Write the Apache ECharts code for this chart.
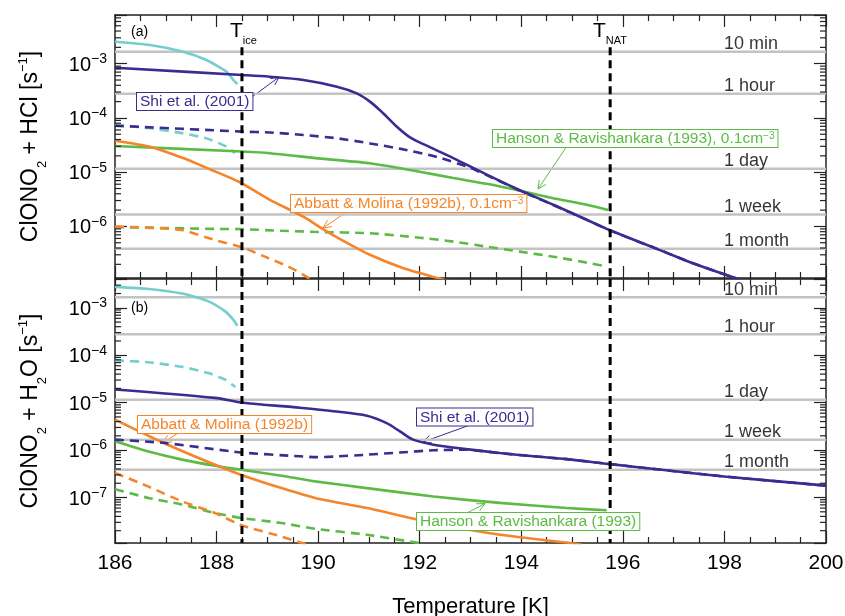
<!DOCTYPE html>
<html><head><meta charset="utf-8">
<script src="https://cdn.jsdelivr.net/npm/echarts@6/dist/echarts.min.js"></script>
<style>html,body{margin:0;padding:0;background:#fff}#c{width:845px;height:616px}</style>
</head><body><div id="c"></div>
<script>
// ---------- data ----------
const T_ICE = 188.5, T_NAT = 195.75;
const lifetimeSeconds = [600, 3600, 86400, 604800, 2592000];
const lifetimeLabels = ['10 min', '1 hour', '1 day', '1 week', '1 month'];
const lifetimeLabelT = 198;
const xRange = [186, 200];
const yRangeA = [1.12e-7, 7.9e-3];
const yRangeB = [1.1e-8, 4.05e-3];
const tLineTopA = 2.0e-3;

// panel (a): ClONO2 + HCl
const aIceSolid = [[186.0,2.54e-3],[186.69,2.21e-3],[187.34,1.66e-3],[187.80,1.17e-3],[188.20,7.1e-4],[188.33,5.0e-4],[188.41,4.2e-4]];
const aIceDash  = [[186.0,7.4e-5],[186.66,6.5e-5],[187.32,5.25e-5],[187.80,4.2e-5],[188.20,2.95e-5],[188.36,2.24e-5]];
const aShiSolid = [[186.0,8.4e-4],[188.5,6.2e-4],[189.05,5.75e-4],[189.71,5.0e-4],[190.37,3.77e-4],[190.76,2.84e-4],[191.02,2.0e-4],[191.28,1.22e-4],[191.55,6.9e-5],[191.81,4.4e-5],[192.2,2.9e-5],[192.66,1.82e-5],[193.32,9.0e-6],[193.97,4.65e-6],[194.63,2.51e-6],[195.29,1.33e-6],[195.75,8.5e-7],[196.72,3.7e-7],[197.38,2.09e-7],[198.3,1.05e-7]];
const aShiDash  = [[186.0,7.2e-5],[188.5,5.6e-5],[189.05,5.4e-5],[189.71,4.85e-5],[190.37,4.22e-5],[191.02,3.39e-5],[191.68,2.63e-5],[192.34,1.91e-5],[193.0,1.2e-5],[193.32,8.8e-6],[193.97,4.6e-6],[194.63,2.48e-6],[195.29,1.32e-6],[195.75,8.4e-7],[196.72,3.7e-7],[197.38,2.09e-7],[198.3,1.05e-7]];
const aHRSolid  = [[186.0,3.04e-5],[188.5,2.4e-5],[189.05,2.24e-5],[190.0,1.8e-5],[191.02,1.46e-5],[192.0,1.02e-5],[192.66,7.8e-6],[193.32,6.1e-6],[193.97,4.57e-6],[194.63,3.31e-6],[195.29,2.51e-6],[195.71,2.01e-6]];
const aHRDash   = [[186.0,9.7e-7],[188.0,9.0e-7],[188.5,8.9e-7],[189.3,8.3e-7],[190.0,7.9e-7],[191.02,7.5e-7],[192.0,6.2e-7],[192.66,5.25e-7],[193.32,4.24e-7],[193.97,3.43e-7],[194.63,2.77e-7],[195.29,2.15e-7],[195.68,1.82e-7]];
const aAMSolid  = [[186.0,3.81e-5],[186.69,2.95e-5],[187.34,1.82e-5],[187.9,1.1e-5],[188.45,6.6e-6],[189.05,3.1e-6],[189.71,1.51e-6],[190.07,9.2e-7],[190.37,6.3e-7],[191.02,3.0e-7],[191.68,1.7e-7],[192.37,1.11e-7],[192.6,9.6e-8]];
const aAMDash   = [[186.0,9.9e-7],[186.66,9.5e-7],[187.31,8.6e-7],[187.97,5.6e-7],[188.49,4.17e-7],[188.95,2.77e-7],[189.41,1.82e-7],[189.77,1.19e-7],[189.9,1.0e-7]];

// panel (b): ClONO2 + H2O
const bIceSolid = [[186.0,2.76e-3],[186.66,2.5e-3],[187.32,2.0e-3],[187.84,1.37e-3],[188.17,8.4e-4],[188.33,5.6e-4],[188.41,4.2e-4]];
const bIceDash  = [[186.0,7.8e-5],[186.66,7.1e-5],[187.32,5.7e-5],[187.84,4.2e-5],[188.17,3.05e-5],[188.37,2.14e-5]];
const bShiSolid = [[186.0,1.9e-5],[187.97,1.26e-5],[188.49,1.01e-5],[189.64,7.8e-6],[190.30,6.6e-6],[190.96,5.3e-6],[191.35,3.7e-6],[191.61,2.48e-6],[191.87,1.66e-6],[192.27,1.3e-6],[192.92,1.05e-6],[193.58,8.7e-7],[194.24,7.4e-7],[194.89,6.45e-7],[195.71,5.13e-7],[196.72,3.89e-7],[198.04,2.75e-7],[200.0,1.78e-7]];
const bShiDash  = [[186.0,1.66e-6],[186.99,1.41e-6],[188.49,8.9e-7],[189.64,7.4e-7],[189.94,7.1e-7],[190.30,7.3e-7],[190.96,8.0e-7],[191.61,8.9e-7],[192.27,9.9e-7],[192.92,1.02e-6],[193.58,8.6e-7],[194.24,7.4e-7],[194.89,6.45e-7],[195.71,5.13e-7],[196.72,3.89e-7],[198.04,2.75e-7],[200.0,1.78e-7]];
const bHRSolid  = [[186.0,1.53e-6],[186.66,9.3e-7],[187.32,6.3e-7],[187.97,4.68e-7],[188.49,3.85e-7],[189.28,2.88e-7],[189.94,2.19e-7],[190.96,1.58e-7],[192.27,1.05e-7],[193.58,7.7e-8],[194.89,6.0e-8],[195.68,5.4e-8]];
const bHRDash   = [[186.0,1.5e-7],[186.66,9.8e-8],[187.32,7.1e-8],[187.97,4.7e-8],[188.49,3.7e-8],[189.28,2.9e-8],[189.94,2.19e-8],[190.96,1.64e-8],[191.94,1.12e-8],[192.05,1.07e-8]];
const bAMSolid  = [[186.0,4.4e-6],[186.95,1.43e-6],[187.97,4.9e-7],[188.49,3.0e-7],[189.28,1.58e-7],[189.94,9.8e-8],[190.96,6.0e-8],[192.27,2.9e-8],[193.58,1.64e-8],[194.96,1.1e-8],[195.2,1.0e-8]];
const bAMDash   = [[186.0,3.3e-7],[186.66,1.7e-7],[187.32,8.3e-8],[187.97,4.7e-8],[188.49,2.6e-8],[189.28,1.5e-8],[189.8,1.0e-8]];

// ---------- style ----------
const FONT = "'Liberation Sans', Arial, Helvetica, sans-serif";
const C_ICE = '#74cfcc', C_SHI = '#3a2c91', C_HR = '#5cbb45', C_AM = '#f5852a';
const FRAME = '#222';

const chart = echarts.init(document.getElementById('c'), null, {renderer: 'canvas'});

function fmtPow(v) {
  const e = Math.log10(v), r = Math.round(e);
  if (Math.abs(e - r) > 1e-6) return '';
  return '{b|10}{s|' + (r < 0 ? '\u2212' : '') + Math.abs(r) + '}';
}

const titleRich = {
  b: {fontSize: 23, fontFamily: FONT, color: '#000', verticalAlign: 'bottom', padding: [0, 0, 7, 0]},
  s: {fontSize: 13, fontFamily: FONT, color: '#000', verticalAlign: 'bottom'},
  p: {fontSize: 13, fontFamily: FONT, color: '#000', verticalAlign: 'bottom', padding: [0, 0, 19, 0]}
};
const yTitles = [
  '{b|ClONO}{s|2}{b| + HCl [s}{p|\u22121}{b|]}',
  '{b|ClONO}{s|2}{b| + H}{s|2}{b|O [s}{p|\u22121}{b|]}'
];

function xAx(g, top) {
  const showLab = (g === 1 && !top);
  return {
    type: 'value', gridIndex: g, position: top ? 'top' : 'bottom',
    min: xRange[0], max: xRange[1], interval: 2,
    axisLine: {show: true, onZero: false, lineStyle: {color: FRAME, width: 1.5}},
    axisTick: {show: true, inside: true, length: 12, lineStyle: {color: FRAME, width: 1.2}},
    minorTick: {show: true, splitNumber: 4, length: 6, lineStyle: {color: FRAME, width: 1.2}},
    splitLine: {show: false}, minorSplitLine: {show: false},
    axisLabel: showLab ? {show: true, fontSize: 21, color: '#000', margin: 10, fontFamily: FONT} : {show: false},
    name: showLab ? 'Temperature [K]' : '', nameLocation: 'middle', nameGap: 53,
    nameTextStyle: {fontSize: 22, color: '#000', fontFamily: FONT}
  };
}
function yAx(g, right) {
  const r = g === 0 ? yRangeA : yRangeB;
  return {
    type: 'log', logBase: 10, gridIndex: g, position: right ? 'right' : 'left',
    min: r[0], max: r[1],
    axisLine: {show: true, onZero: false, lineStyle: {color: FRAME, width: 1.5}},
    axisTick: {show: true, inside: true, length: 12, lineStyle: {color: FRAME, width: 1.2}},
    minorTick: {show: false}, splitLine: {show: false}, minorSplitLine: {show: false},
    axisLabel: right ? {show: false} : {
      show: true, margin: 8, color: '#000', fontFamily: FONT, formatter: fmtPow,
      rich: {
        b: {fontSize: 20, fontFamily: FONT, color: '#000', verticalAlign: 'bottom'},
        s: {fontSize: 14, fontFamily: FONT, color: '#000', verticalAlign: 'bottom', padding: [0, 0, 9, 0]}
      }
    },
    name: right ? '' : yTitles[g], nameLocation: 'middle', nameGap: 66,
    nameTextStyle: {fontFamily: FONT, color: '#000', rich: titleRich}
  };
}

function curve(data, color, dashed, g, sm) {
  return {
    type: 'line', xAxisIndex: g * 2, yAxisIndex: g * 2, data: data,
    showSymbol: false, symbol: 'none', smooth: sm || 0.2,
    lineStyle: {color: color, width: 2.6, type: dashed ? [9, 6] : 'solid', cap: 'butt'},
    z: 3, silent: true, animation: false, clip: true
  };
}

const series = [];
[0, 1].forEach(g => {
  const yr = g === 0 ? yRangeA : yRangeB;
  lifetimeSeconds.forEach(s => {
    series.push({
      type: 'line', xAxisIndex: g * 2, yAxisIndex: g * 2,
      data: [[xRange[0], 1 / s], [xRange[1], 1 / s]],
      showSymbol: false, symbol: 'none', silent: true, animation: false,
      lineStyle: {color: '#c3c3c3', width: 2.5}, z: 1
    });
  });
  series.push({
    type: 'scatter', xAxisIndex: g * 2, yAxisIndex: g * 2,
    data: lifetimeSeconds.map((s, i) => ({value: [lifetimeLabelT, 1 / s], name: lifetimeLabels[i]})),
    symbolSize: 1, itemStyle: {color: 'rgba(0,0,0,0)'}, silent: true, animation: false, z: 2,
    label: {show: true, formatter: '{b}', position: [0, 2], align: 'left', verticalAlign: 'bottom',
            fontSize: 18, color: '#000', fontFamily: FONT}
  });
  const minorVals = [];
  for (let e = -10; e <= -1; e++) for (let k = 2; k <= 9; k++) {
    const v = k * Math.pow(10, e);
    if (v > yr[0] && v < yr[1]) minorVals.push([xRange[0], v]);
  }
  series.push({
    type: 'custom', xAxisIndex: g * 2, yAxisIndex: g * 2, data: minorVals, silent: true,
    animation: false, clip: false, z: 6,
    renderItem: function (params, api) {
      const p = api.coord([xRange[0], api.value(1)]);
      const q = api.coord([xRange[1], api.value(1)]);
      return {type: 'group', children: [
        {type: 'line', shape: {x1: p[0], y1: p[1], x2: p[0] + 6, y2: p[1]}, style: {stroke: FRAME, lineWidth: 1.2}},
        {type: 'line', shape: {x1: q[0] - 6, y1: q[1], x2: q[0], y2: q[1]}, style: {stroke: FRAME, lineWidth: 1.2}}
      ]};
    }
  });
  const top = g === 0 ? tLineTopA : yr[1];
  [T_ICE, T_NAT].forEach(t => {
    series.push({
      type: 'line', xAxisIndex: g * 2, yAxisIndex: g * 2,
      data: [[t, top], [t, yr[0]]], showSymbol: false, symbol: 'none', silent: true, animation: false,
      lineStyle: {color: '#000', width: 3, type: [8, 5]}, z: 5
    });
  });
});

series.push(
  curve(aIceSolid, C_ICE, false, 0), curve(aIceDash, C_ICE, true, 0),
  curve(aHRSolid, C_HR, false, 0), curve(aHRDash, C_HR, true, 0),
  curve(aAMSolid, C_AM, false, 0), curve(aAMDash, C_AM, true, 0),
  curve(aShiDash, C_SHI, true, 0), curve(aShiSolid, C_SHI, false, 0, 0.35),
  curve(bIceSolid, C_ICE, false, 1), curve(bIceDash, C_ICE, true, 1),
  curve(bHRSolid, C_HR, false, 1), curve(bHRDash, C_HR, true, 1),
  curve(bAMSolid, C_AM, false, 1), curve(bAMDash, C_AM, true, 1),
  curve(bShiDash, C_SHI, true, 1), curve(bShiSolid, C_SHI, false, 1, 0.3)
);

// ---------- annotations ----------
function arrow(x1, y1, x2, y2, color) {
  const ang = Math.atan2(y2 - y1, x2 - x1), L = 9, a = 0.45;
  const p1 = [x2 - L * Math.cos(ang - a), y2 - L * Math.sin(ang - a)];
  const p2 = [x2 - L * Math.cos(ang + a), y2 - L * Math.sin(ang + a)];
  return {type: 'group', z: 10, children: [
    {type: 'line', shape: {x1: x1, y1: y1, x2: x2, y2: y2}, style: {stroke: color, lineWidth: 1}},
    {type: 'polyline', shape: {points: [p1, [x2, y2], p2]}, style: {stroke: color, lineWidth: 1, fill: null}}
  ]};
}
function box(x, y, text, color) {
  return {type: 'text', x: x, y: y, z: 11, style: {
    text: text, fill: color, fontFamily: FONT, fontSize: 15.5, lineHeight: 16,
    backgroundColor: '#fff', borderColor: color, borderWidth: 1, padding: [1, 3, 0, 3],
    rich: {sup: {fontSize: 10, lineHeight: 10, verticalAlign: 'top', fill: color, color: color, fontFamily: FONT}}
  }};
}
function tLabel(x, sub) {
  return {type: 'text', x: x, y: 46, z: 11, style: {
    text: '{t|T}{s|' + sub + '}', verticalAlign: 'bottom', textVerticalAlign: 'bottom',
    rich: {
      t: {fontSize: 21, fontFamily: FONT, fill: '#000', color: '#000', verticalAlign: 'bottom', padding: [0, 0, 4, 0]},
      s: {fontSize: 11, fontFamily: FONT, fill: '#000', color: '#000', verticalAlign: 'bottom'}
    }
  }};
}

const graphic = [
  {type: 'text', x: 131, y: 32, z: 11, style: {text: '(a)', fontSize: 14, fontFamily: FONT, fill: '#000', verticalAlign: 'middle', textVerticalAlign: 'middle'}},
  {type: 'text', x: 131, y: 308, z: 11, style: {text: '(b)', fontSize: 14, fontFamily: FONT, fill: '#000', verticalAlign: 'middle', textVerticalAlign: 'middle'}},
  tLabel(230, 'ice'), tLabel(593, 'NAT'),
  arrow(252, 97, 279, 77, C_SHI), box(137, 93, 'Shi et al. (2001)', C_SHI),
  arrow(567, 146, 538, 189, C_HR), box(493, 130, 'Hanson & Ravishankara (1993), 0.1cm{sup|\u22123}', C_HR),
  arrow(348, 211, 323, 228, C_AM), box(291, 195, 'Abbatt & Molina (1992b), 0.1cm{sup|\u22123}', C_AM),
  arrow(178, 433, 163, 443, C_AM), box(138, 416, 'Abbatt & Molina (1992b)', C_AM),
  arrow(470, 425, 423, 442, C_SHI), box(417, 408.5, 'Shi et al. (2001)', C_SHI),
  arrow(467, 513, 485, 503.5, C_HR), box(417, 513, 'Hanson & Ravishankara (1993)', C_HR)
];

chart.setOption({
  animation: false,
  backgroundColor: '#fff',
  textStyle: {fontFamily: FONT},
  grid: [
    {left: 115, right: 19, top: 15, height: 263, containLabel: false, outerBoundsMode: 'none'},
    {left: 115, right: 19, top: 279, height: 264, containLabel: false, outerBoundsMode: 'none'}
  ],
  xAxis: [xAx(0, false), xAx(0, true), xAx(1, false), xAx(1, true)],
  yAxis: [yAx(0, false), yAx(0, true), yAx(1, false), yAx(1, true)],
  series: series,
  graphic: graphic
});
</script>
</body></html>
